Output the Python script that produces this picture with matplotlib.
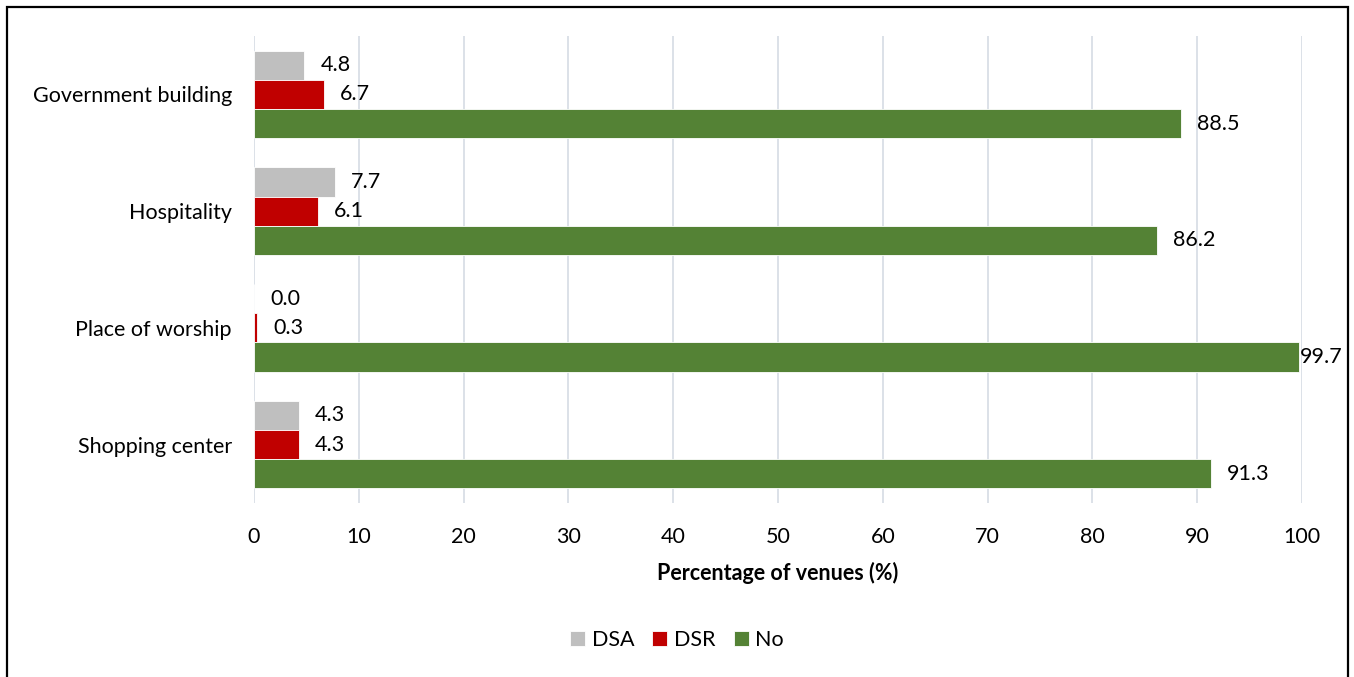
import numpy as np
import matplotlib.pyplot as plt
from matplotlib.patches import Rectangle

plt.rcParams['font.family'] = ['Lato', 'DejaVu Sans']

categories = ["Government building", "Hospitality", "Place of worship", "Shopping center"]
dsa = [4.8, 7.7, 0.0, 4.3]
dsr = [6.7, 6.1, 0.3, 4.3]
no = [88.5, 86.2, 99.7, 91.3]
series = [("DSA", dsa, "#BFBFBF"), ("DSR", dsr, "#C00000"), ("No", no, "#548235")]

fs = 15.5

fig = plt.figure(figsize=(13.54, 6.77), dpi=100)
ax = fig.add_axes([254 / 1354, 1 - 503 / 677, 1048 / 1354, 467 / 677])

y = np.arange(len(categories))
h = 0.25
for i, (name, vals, col) in enumerate(series):
    pos = y + (i - 1) * h
    ax.barh(pos, vals, height=h, color=col, label=name, zorder=3,
            edgecolor="white", linewidth=0.6)
    for p, v in zip(pos, vals):
        if v > 98:
            ax.annotate(f"{v:.1f}", (v, p), xytext=(0.5, 0), textcoords="offset points",
                        ha="left", va="center", fontsize=fs, annotation_clip=False)
        else:
            ax.annotate(f"{v:.1f}", (v, p), xytext=(11.5, 0), textcoords="offset points",
                        ha="left", va="center", fontsize=fs)

ax.set_xlim(0, 100)
ax.set_ylim(3.5, -0.5)
ax.set_xticks(np.arange(0, 101, 10))
ax.set_yticks(y)
ax.set_yticklabels(categories)
ax.tick_params(axis="both", length=0, labelsize=fs)
ax.tick_params(axis="x", pad=17)
ax.tick_params(axis="y", pad=16)
ax.grid(axis="x", color="#D9DEE6", linewidth=1.3, zorder=0)
for s in ax.spines.values():
    s.set_visible(False)
ax.set_xlabel("Percentage of venues (%)", fontsize=fs, fontweight="bold", labelpad=11)

fig.legend(loc="center", bbox_to_anchor=(0.5, 1 - 640 / 677), ncol=3, frameon=False,
           fontsize=fs, handlelength=0.7, handleheight=0.7, handletextpad=0.3,
           columnspacing=0.85)

fig.add_artist(Rectangle((7 / 1354, -0.01), 1341 / 1354, 1 - 7 / 677 + 0.01,
                         transform=fig.transFigure, fill=False, edgecolor="black",
                         linewidth=1.6))

fig.savefig("out.png", dpi=100)
